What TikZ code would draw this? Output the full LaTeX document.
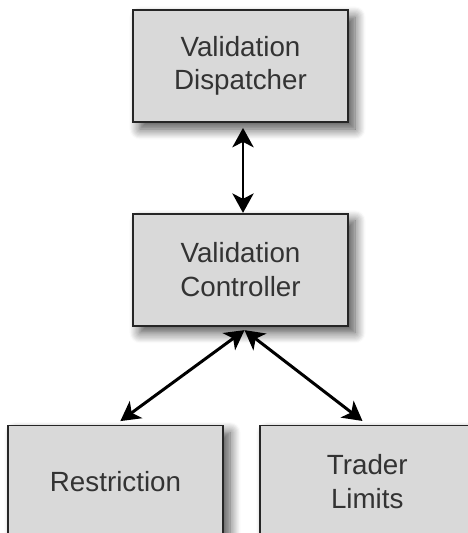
\documentclass[tikz,border=0pt]{standalone}
\usepackage{fontspec}
\setmainfont{Liberation Sans}
\usepackage{tikz}
\usetikzlibrary{arrows.meta, positioning, calc, shadows.blur}

\begin{document}
\begin{tikzpicture}[node distance=1.8cm, auto, >={Stealth[length=11pt, width=12pt, inset=3pt]}]

        % --- styles ---
        \tikzstyle{module} = [rectangle, minimum width=4.3cm, minimum height=2.24cm, text centered, align=center, draw=black!85, line width=1pt, fill=black!15, text=black!80, font=\fontsize{15.8}{19}\selectfont, blur shadow={shadow xshift=4pt, shadow yshift=-4pt, shadow blur steps=10, shadow opacity=70, shadow blur radius=6pt}]
        \tikzstyle{link} = [line width=1.7pt, <->, black]

        \useasboundingbox (0,0) rectangle (9.36,-10.66);

        % --- nodes ---
        \node (dispatcher) [module] at (4.81,-1.32) {Validation\\Dispatcher};
        \node (controller) [module, below=of dispatcher] {Validation\\Controller};
        \node (restriction) [module, below=1.96cm of controller, xshift=-2.5cm] {Restriction};
        \node (limits) [module, right=0.7cm of restriction] {Trader\\Limits};

        % --- connectors ---
        \coordinate (hub) at ($(controller.south)+(0.08,-0.07)$);
        \draw[link] ($(dispatcher.south)+(0.05,-0.1)$) coordinate (d1) -- (d1 |- controller.north);
        \draw[link, shorten >=0.12cm] (hub) -- (restriction.north);
        \draw[link, shorten >=0.12cm] (hub) -- (limits.north);

\end{tikzpicture}
\end{document}
